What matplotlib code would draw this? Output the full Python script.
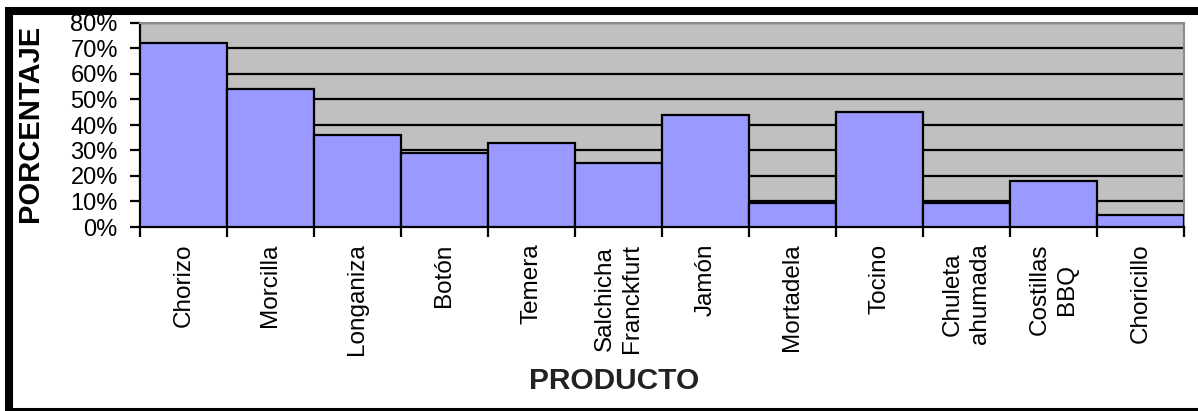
import numpy as np
import matplotlib
matplotlib.use("Agg")
import matplotlib.pyplot as plt
from matplotlib.patches import Rectangle
from matplotlib.ticker import FuncFormatter

plt.rcParams['font.family'] = ['Liberation Sans', 'DejaVu Sans']

productos = ["Chorizo", "Morcilla", "Longaniza", "Botón", "Temera",
             "Salchicha\nFranckfurt", "Jamón", "Mortadela", "Tocino",
             "Chuleta\nahumada", "Costillas\nBBQ", "Choricillo"]
porcentaje = [72, 54, 36, 29, 33, 25, 44, 9.6, 45, 9.6, 18, 4.8]

W, H = 1198, 411
fig = plt.figure(figsize=(W / 100, H / 100), dpi=100)
ax = fig.add_axes([140 / W, (H - 227) / H, 1044 / W, 204 / H])

x = np.arange(len(productos))
ax.set_facecolor("#c0c0c0")
ax.bar(x, porcentaje, width=1.0, color="#9999ff", edgecolor="black",
       linewidth=1.6, zorder=3)

ax.set_xlim(-0.5, len(productos) - 0.5)
ax.set_ylim(0, 80)
ax.set_yticks(np.arange(0, 81, 10))
ax.yaxis.set_major_formatter(FuncFormatter(lambda v, p: f"{int(v)}%"))
ax.grid(axis="y", color="black", linewidth=1.6, zorder=1)
ax.set_axisbelow(True)

ax.set_xticks(x)
ax.set_xticklabels(productos, rotation=90, va="top", ha="center",
                   multialignment="center", linespacing=1.3)
ax.set_xticks(np.arange(-0.5, len(productos)), minor=True)
ax.tick_params(axis="x", which="major", length=0, pad=12, labelsize=17.5)
ax.tick_params(axis="x", which="minor", length=7, width=1.6, direction="out")
ax.tick_params(axis="y", length=7, width=1.6, pad=9, labelsize=17)

for s in ["top", "right"]:
    ax.spines[s].set_color("#8c8c8c")
    ax.spines[s].set_linewidth(1.5)
for s in ["left", "bottom"]:
    ax.spines[s].set_color("black")
    ax.spines[s].set_linewidth(1.6)

fig.text(30 / W, 1 - 123 / H, "PORCENTAJE", rotation=90, ha="center",
         va="center", fontsize=21, fontweight="bold")
fig.text(614 / W, 1 - 381 / H, "PRODUCTO", ha="center", va="center",
         fontsize=21.5, fontweight="bold", color="#222222")

# black frame around the chart
fig.add_artist(Rectangle((9 / W, 1 - 411.5 / H), 1.2, 400.5 / H,
                         transform=fig.transFigure, fill=False,
                         edgecolor="black", linewidth=5.8, clip_on=False))

fig.savefig("out.png", dpi=100)
